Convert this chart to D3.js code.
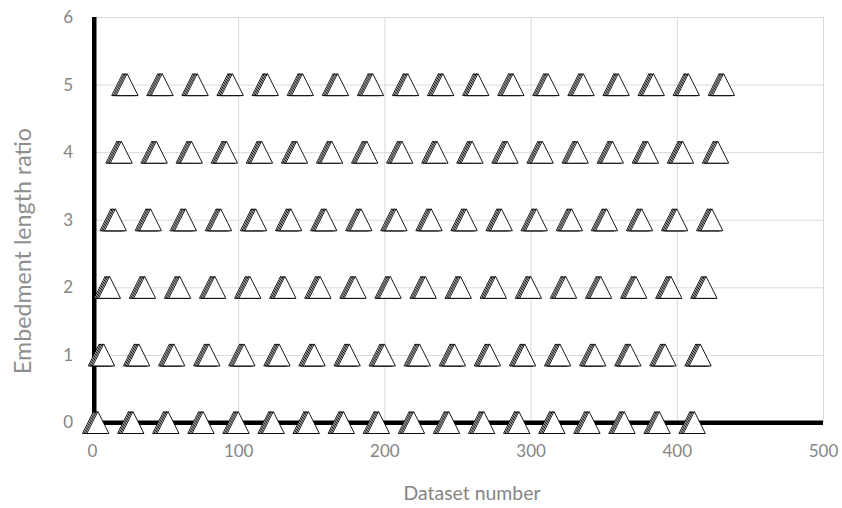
<!DOCTYPE html>
<html>
<head>
<meta charset="utf-8">
<script src="https://cdn.jsdelivr.net/npm/d3@7"></script>
<style>
  html, body { margin: 0; padding: 0; background: #fff; }
  svg { display: block; }
</style>
</head>
<body>
<svg id="chart" width="842" height="508"></svg>
<script>
// ---- data ----
const xTicks = [0, 100, 200, 300, 400, 500];
const yTicks = [0, 1, 2, 3, 4, 5, 6];
const xTitle = "Dataset number";
const yTitle = "Embedment length ratio";
// embedment length ratio for dataset numbers 1, 2, 3, ...
const ratios = [
  0,0,0,0,1,1,1,1,2,2,2,2,3,3,3,3,4,4,4,4,5,5,5,5,
  0,0,0,0,1,1,1,1,2,2,2,2,3,3,3,3,4,4,4,4,5,5,5,5,
  0,0,0,0,1,1,1,1,2,2,2,2,3,3,3,3,4,4,4,4,5,5,5,5,
  0,0,0,0,1,1,1,1,2,2,2,2,3,3,3,3,4,4,4,4,5,5,5,5,
  0,0,0,0,1,1,1,1,2,2,2,2,3,3,3,3,4,4,4,4,5,5,5,5,
  0,0,0,0,1,1,1,1,2,2,2,2,3,3,3,3,4,4,4,4,5,5,5,5,
  0,0,0,0,1,1,1,1,2,2,2,2,3,3,3,3,4,4,4,4,5,5,5,5,
  0,0,0,0,1,1,1,1,2,2,2,2,3,3,3,3,4,4,4,4,5,5,5,5,
  0,0,0,0,1,1,1,1,2,2,2,2,3,3,3,3,4,4,4,4,5,5,5,5,
  0,0,0,0,1,1,1,1,2,2,2,2,3,3,3,3,4,4,4,4,5,5,5,5,
  0,0,0,0,1,1,1,1,2,2,2,2,3,3,3,3,4,4,4,4,5,5,5,5,
  0,0,0,0,1,1,1,1,2,2,2,2,3,3,3,3,4,4,4,4,5,5,5,5,
  0,0,0,0,1,1,1,1,2,2,2,2,3,3,3,3,4,4,4,4,5,5,5,5,
  0,0,0,0,1,1,1,1,2,2,2,2,3,3,3,3,4,4,4,4,5,5,5,5,
  0,0,0,0,1,1,1,1,2,2,2,2,3,3,3,3,4,4,4,4,5,5,5,5,
  0,0,0,0,1,1,1,1,2,2,2,2,3,3,3,3,4,4,4,4,5,5,5,5,
  0,0,0,0,1,1,1,1,2,2,2,2,3,3,3,3,4,4,4,4,5,5,5,5,
  0,0,0,0,1,1,1,1,2,2,2,2,3,3,3,3,4,4,4,4,5,5,5,5
];
const points = ratios.map((r, i) => ({ dataset: i + 1, ratio: r }));

// ---- layout ----
const plotL = 92, plotR = 823, plotT = 17, plotB = 422.5;
const svg = d3.select("#chart");
const x = d3.scaleLinear().domain([0, 500]).range([plotL, plotR]);
const y = d3.scaleLinear().domain([0, 6]).range([plotB, plotT]);
const font = "Lato, 'Open Sans', sans-serif";
const grey = "#858585";

// gridlines
const gx = svg.append("g").attr("transform", `translate(0,${plotB})`)
  .call(d3.axisBottom(x).tickValues(xTicks).tickSize(-(plotB - plotT)).tickFormat(""));
gx.select(".domain").remove();
gx.selectAll("line").attr("stroke", "#d9d9d9").attr("stroke-width", 1);

const gy = svg.append("g").attr("transform", `translate(${plotL},0)`)
  .call(d3.axisLeft(y).tickValues(yTicks).tickSize(-(plotR - plotL)).tickFormat(""));
gy.select(".domain").remove();
gy.selectAll("line").attr("stroke", "#d9d9d9").attr("stroke-width", 1);

// tick labels
const lx = svg.append("g").attr("transform", `translate(0,${plotB})`)
  .call(d3.axisBottom(x).tickValues(xTicks).tickSize(0).tickPadding(22).tickFormat(d3.format("d")));
lx.select(".domain").remove();
lx.selectAll("text").attr("fill", grey).style("font-family", font).style("font-size", "17px");

const ly = svg.append("g").attr("transform", `translate(${plotL},0)`)
  .call(d3.axisLeft(y).tickValues(yTicks).tickSize(0).tickPadding(19).tickFormat(d3.format("d")));
ly.select(".domain").remove();
ly.selectAll("text").attr("fill", grey).style("font-family", font).style("font-size", "17px");

// thick axis lines
svg.append("rect").attr("x", x(0)).attr("y", y(6)).attr("width", 4.5).attr("height", y(0) - y(6) + 2.5).attr("fill", "#000");
svg.append("rect").attr("x", x(0)).attr("y", y(0) - 2).attr("width", x(500) - x(0)).attr("height", 4.5).attr("fill", "#000");

// markers: open triangles
const tri = "M0,-11L11,11L-11,11Z";
svg.append("g").selectAll("path").data(points).join("path")
  .attr("d", tri)
  .attr("transform", d => `translate(${x(d.dataset)},${y(d.ratio)})`)
  .attr("fill", "#fff")
  .attr("stroke", "#000")
  .attr("stroke-width", 0.9)
  .attr("stroke-linejoin", "miter");

// axis titles, sized to the reference text widths
function fit(sel, target) {
  const w = sel.node().getComputedTextLength();
  const fs = parseFloat(sel.style("font-size"));
  sel.style("font-size", (fs * target / w).toFixed(2) + "px");
}
const tx = svg.append("text").attr("x", 472).attr("y", 500)
  .attr("text-anchor", "middle").attr("fill", grey)
  .style("font-family", font).style("font-size", "18px").text(xTitle);
fit(tx, 137);
const ty = svg.append("text").attr("transform", `translate(31,251) rotate(-90)`)
  .attr("text-anchor", "middle").attr("fill", "#8f8f8f")
  .style("font-family", font).style("font-size", "18px").text(yTitle);
fit(ty, 246);
</script>
</body>
</html>
